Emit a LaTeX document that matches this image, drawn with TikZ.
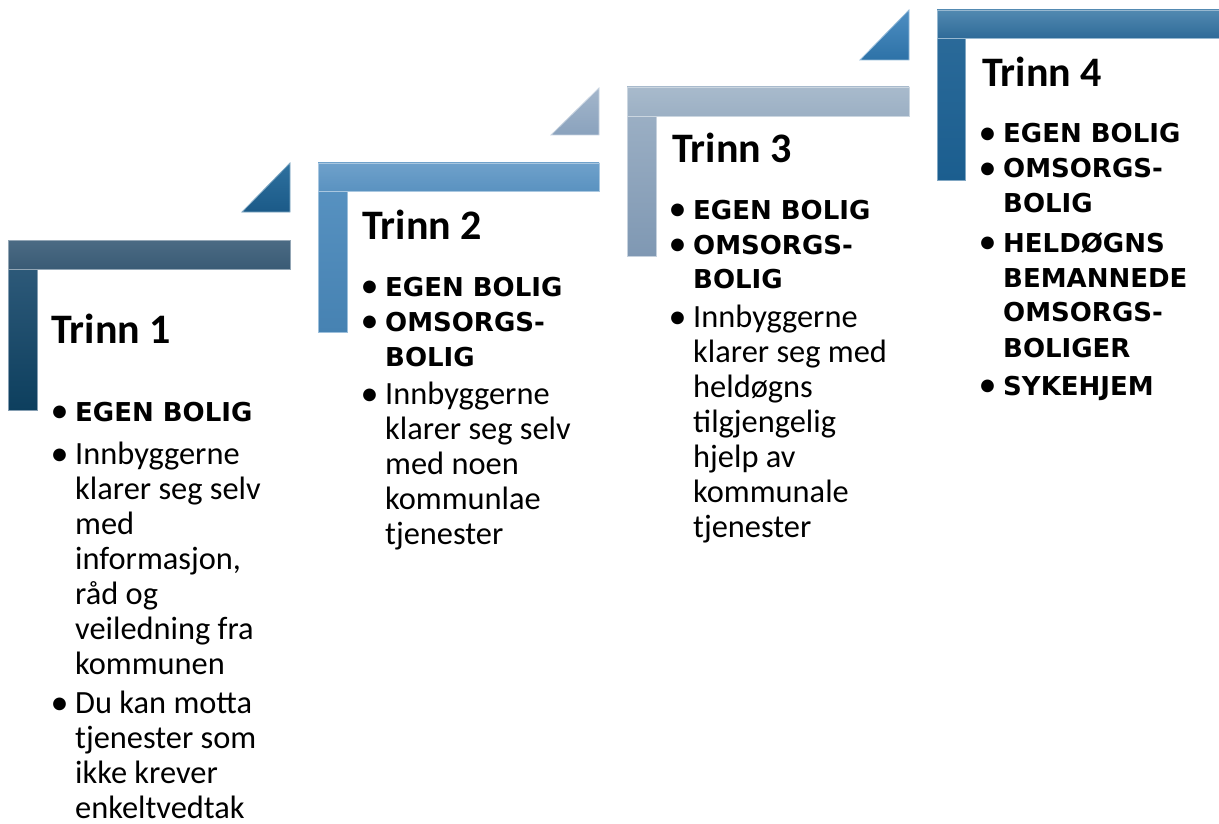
\documentclass[tikz,border=0pt]{standalone}
\usepackage{fontspec}
\setmainfont{Carlito}
\newfontfamily\capsfont{DejaVu Sans}
\definecolor{sAhT}{HTML}{4B6B84}\definecolor{sAhB}{HTML}{3A5B75}
\definecolor{sAvT}{HTML}{335E7E}\definecolor{sAvB}{HTML}{0D3F5E}
\definecolor{sAtT}{HTML}{2E719F}\definecolor{sAtB}{HTML}{1B5A88}
\definecolor{sBhT}{HTML}{6FA1CB}\definecolor{sBhB}{HTML}{5A92C0}
\definecolor{sBvT}{HTML}{5A94C3}\definecolor{sBvB}{HTML}{4682B2}
\definecolor{sBtT}{HTML}{A3B6CB}\definecolor{sBtB}{HTML}{8AA2BD}
\definecolor{sChT}{HTML}{A8BACC}\definecolor{sChB}{HTML}{9CB0C4}
\definecolor{sCvT}{HTML}{A0B3C7}\definecolor{sCvB}{HTML}{7F98B3}
\definecolor{sCtT}{HTML}{4E8EC2}\definecolor{sCtB}{HTML}{2D72A7}
\definecolor{sDhT}{HTML}{5289B1}\definecolor{sDhB}{HTML}{2F6B98}
\definecolor{sDvT}{HTML}{2D6C9B}\definecolor{sDvB}{HTML}{1B5E8F}
\newcommand\regtxt{\fontsize{32.4}{35}\selectfont}
\newcommand\boldtxt{\capsfont\bfseries\fontsize{26}{35}\selectfont}
\newcommand\bitem[2]{\parbox[t]{225pt}{\raggedright\let\\\newline\hangindent=22pt\hangafter=1\relax\noindent\makebox[22pt][l]{\hspace*{-2.5pt}\smash{\raisebox{-1.5pt}{\fontsize{36}{35}\selectfont\textbullet}}}#1#2}}
\tikzset{
  head/.style={inner sep=0pt, anchor=base west, font=\bfseries\fontsize{42}{48}\selectfont},
  item/.style={inner sep=0pt, anchor=base west},
  edge/.style={line width=0.8pt}
}
\begin{document}
\begin{tikzpicture}[x=1pt,y=-1pt]
\useasboundingbox[fill=white] (0,0) rectangle (1219,824);
% ---------- step 1 ----------
\shade[top color=sAvT, bottom color=sAvB, draw=sAvT!60!white, edge] (8,240) rectangle (37,410);
\shade[top color=sAhT, bottom color=sAhB, draw=sAhT!60!white, edge] (8,240) rectangle (290,269);
\shade[top color=sAtT, bottom color=sAtB, draw=sAtT!60!white, edge] (242,212) -- (290,212) -- (290,163) -- cycle;
% ---------- step 2 ----------
\shade[top color=sBvT, bottom color=sBvB, draw=sBvT!60!white, edge] (318,163) rectangle (347,332);
\shade[top color=sBhT, bottom color=sBhB, draw=sBhT!60!white, edge] (318,163) rectangle (599,191);
\shade[top color=sBtT, bottom color=sBtB, draw=sBtT!60!white, edge] (551,135) -- (599,135) -- (599,88) -- cycle;
% ---------- step 3 ----------
\shade[top color=sCvT, bottom color=sCvB, draw=sCvT!60!white, edge] (627,87) rectangle (656,256);
\shade[top color=sChT, bottom color=sChB, draw=sChT!60!white, edge] (627,87) rectangle (909,116);
\shade[top color=sCtT, bottom color=sCtB, draw=sCtT!60!white, edge] (860,60) -- (909,60) -- (909,10) -- cycle;
% ---------- step 4 ----------
\shade[top color=sDvT, bottom color=sDvB, draw=sDvT!60!white, edge] (937,10) rectangle (965,180);
\shade[top color=sDhT, bottom color=sDhB, draw=sDhT!60!white, edge] (937,10) rectangle (1219,38);

% ---------- texts ----------
\node[head] (h1) at (51,343) {Trinn 1};
\node[item] (a1) at (53,421) {\bitem{\boldtxt}{EGEN BOLIG}};
\node[item] (a2) at (53,464) {\bitem{\regtxt}{Innbyggerne\\klarer seg selv\\med\\informasjon,\\råd og\\veiledning fra\\kommunen}};
\node[item] (a3) at (53,713) {\bitem{\regtxt}{Du kan motta\\tjenester som\\ikke krever\\enkeltvedtak}};

\node[head] (h2) at (362,240) {Trinn 2};
\node[item] (b1) at (363,296) {\bitem{\boldtxt}{EGEN BOLIG}};
\node[item] (b2) at (363,331) {\bitem{\boldtxt}{OMSORGS-\\BOLIG}};
\node[item] (b3) at (363,404) {\bitem{\regtxt}{Innbyggerne\\klarer seg selv\\med noen\\kommunlae\\tjenester}};

\node[head] (h3) at (672,163) {Trinn 3};
\node[item] (c1) at (671,219) {\bitem{\boldtxt}{EGEN BOLIG}};
\node[item] (c2) at (671,254) {\bitem{\boldtxt}{OMSORGS-\\BOLIG}};
\node[item] (c3) at (671,327) {\bitem{\regtxt}{Innbyggerne\\klarer seg med\\heldøgns\\tilgjengelig\\hjelp av\\kommunale\\tjenester}};

\node[head] (h4) at (982,87) {Trinn 4};
\node[item] (d1) at (981,143) {\bitem{\boldtxt}{EGEN BOLIG}};
\node[item] (d2) at (981,178) {\bitem{\boldtxt}{OMSORGS-\\BOLIG}};
\node[item] (d3) at (981,252) {\bitem{\boldtxt}{HELDØGNS\\BEMANNEDE\\OMSORGS-\\BOLIGER}};
\node[item] (d4) at (981,395) {\bitem{\boldtxt}{SYKEHJEM}};
\end{tikzpicture}
\end{document}
